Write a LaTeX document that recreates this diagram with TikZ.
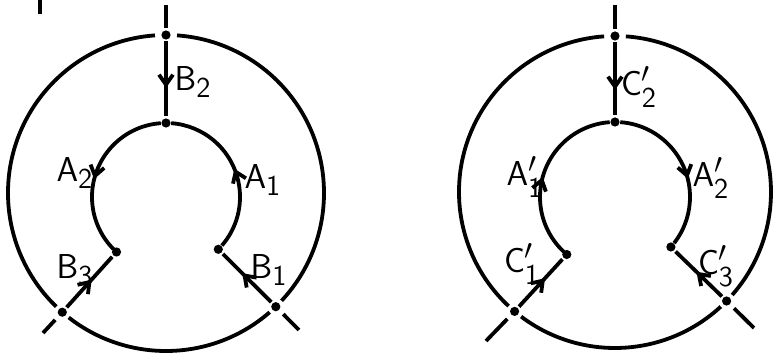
\documentclass[tikz,border=0pt]{standalone}
\usepackage{amsmath}
\usetikzlibrary{arrows.meta,decorations.markings}

\begin{document}
\begin{tikzpicture}
[
  x=0.5pt,y=0.5pt,
  line width=1.9pt,
  dot/.style={circle,fill,inner sep=0pt,minimum size=4.6pt},
  lab/.style={font=\fontsize{19}{22}\selectfont,inner sep=0pt},
  mid/.style={postaction={decorate,decoration={markings,
      mark=at position #1 with {\arrow{Straight Barb[length=5pt,width=7pt]}}}}},
]
\useasboundingbox (0,0) rectangle (773,359);

\draw (40,345) -- (40,359);

% left picture
\draw (166,166) ++(94:158) arc[start angle=94,end angle=226,radius=158];
\draw (166,166) ++(232:158) arc[start angle=232,end angle=311,radius=158];
\draw (166,166) ++(-43:158) arc[start angle=-43,end angle=86,radius=158];
\draw[mid=0.55] (166,162) ++(94:74) arc[start angle=94,end angle=225,radius=74];
\draw[mid=0.5] (166,162) ++(-41:74) arc[start angle=-41,end angle=86,radius=74];

\node[dot] (lot) at (166,324){};
\node[dot] (lit) at (166,236){};
\node[dot] (lil) at (116.5,107){};
\node[dot] (lir) at (218.3,109.7){};
\node[dot] (lxl) at (62.3,46.8){};
\node[dot] (lxr) at (275.8,52.3){};
\coordinate (lend) at (166,354);
\coordinate (lel) at (43,26);
\coordinate (ler) at (299,29);

\draw (lend) -- (lot);
\draw[mid=0.62] (lot) -- (lit);
\draw[mid=0.55] (lxl) -- (lil);
\draw[mid=0.6] (lxr) -- (lir);
\draw[shorten <=2pt] (lxl) -- (lel);
\draw[shorten <=2pt] (lxr) -- (ler);

\node[lab] (b2) at (193,277){$\mathsf{B}_{\mathsf{2}}$};
\node[lab] (a2) at (75,186){$\mathsf{A}_{\mathsf{2}}$};
\node[lab] (a1) at (263,179){$\mathsf{A}_{\mathsf{1}}$};
\node[lab] (b3) at (75,89){$\mathsf{B}_{\mathsf{3}}$};
\node[lab] (b1) at (269,89){$\mathsf{B}_{\mathsf{1}}$};

% right picture
\draw (615,167) ++(94:156) arc[start angle=94,end angle=227,radius=156];
\draw (615,167) ++(233:156) arc[start angle=233,end angle=312.7,radius=156];
\draw (615,167) ++(-41.3:156) arc[start angle=-41.3,end angle=86,radius=156];
\draw[mid=0.47] (615,162) ++(227:75) arc[start angle=227,end angle=94,radius=75];
\draw[mid=0.58] (615,162) ++(86:75) arc[start angle=86,end angle=-38,radius=75];

\node[dot] (rot) at (615,323){};
\node[dot] (rit) at (615,237){};
\node[dot] (ril) at (566.8,104.5){};
\node[dot] (rir) at (670.9,112){};
\node[dot] (rxl) at (514.6,47.6){};
\node[dot] (rxr) at (726.6,58){};
\coordinate (rend) at (615,354);
\coordinate (rel) at (486,18);
\coordinate (rer) at (754,31);

\draw (rend) -- (rot);
\draw[mid=0.65] (rot) -- (rit);
\draw[mid=0.6] (rxl) -- (ril);
\draw[mid=0.55] (rxr) -- (rir);
\draw[shorten <=2pt] (rxl) -- (rel);
\draw[shorten <=2pt] (rxr) -- (rer);

\node[lab] (c2) at (639,272){$\mathsf{C}'_{\mathsf{2}}$};
\node[lab] (a1p) at (525,182){$\mathsf{A}'_{\mathsf{1}}$};
\node[lab] (a2p) at (711,181){$\mathsf{A}'_{\mathsf{2}}$};
\node[lab] (c1) at (522,95){$\mathsf{C}'_{\mathsf{1}}$};
\node[lab] (c3) at (716,93){$\mathsf{C}'_{\mathsf{3}}$};
\end{tikzpicture}
\end{document}
